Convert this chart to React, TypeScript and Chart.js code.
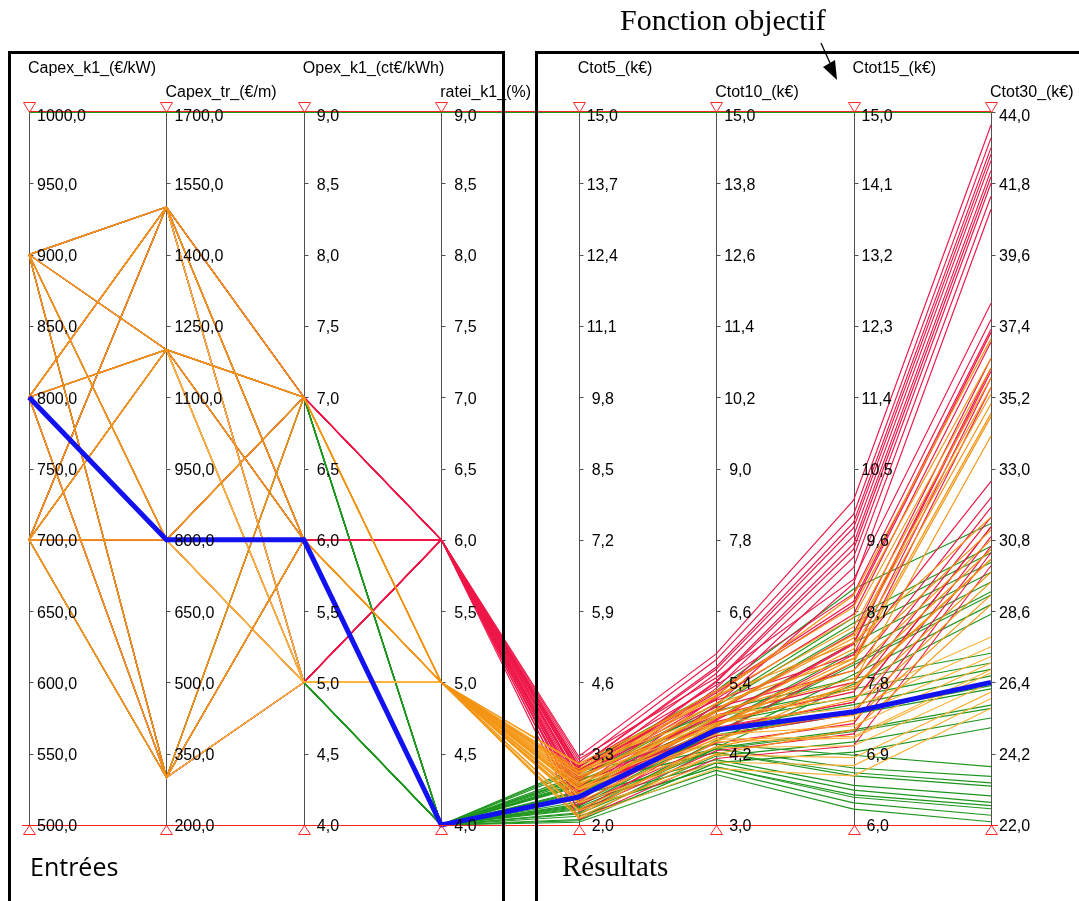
import React, { useEffect, useRef } from 'react';
import { Chart, registerables } from 'chart.js';

Chart.register(...registerables);

// ---- Axes ----
const axisTitles = [
  'Capex_k1_(€/kW)',
  'Capex_tr_(€/m)',
  'Opex_k1_(ct€/kWh)',
  'ratei_k1_(%)',
  'Ctot5_(k€)',
  'Ctot10_(k€)',
  'Ctot15_(k€)',
  'Ctot30_(k€)',
];
const capexK1Ticks = [500, 550, 600, 650, 700, 750, 800, 850, 900, 950, 1000];
const capexTrTicks = [200, 350, 500, 650, 800, 950, 1100, 1250, 1400, 1550, 1700];
const opexTicks = [4.0, 4.5, 5.0, 5.5, 6.0, 6.5, 7.0, 7.5, 8.0, 8.5, 9.0];
const rateiTicks = [4.0, 4.5, 5.0, 5.5, 6.0, 6.5, 7.0, 7.5, 8.0, 8.5, 9.0];
const ctot5Ticks = [2.0, 3.3, 4.6, 5.9, 7.2, 8.5, 9.8, 11.1, 12.4, 13.7, 15.0];
const ctot10Ticks = [3.0, 4.2, 5.4, 6.6, 7.8, 9.0, 10.2, 11.4, 12.6, 13.8, 15.0];
const ctot15Ticks = [6.0, 6.9, 7.8, 8.7, 9.6, 10.5, 11.4, 12.3, 13.2, 14.1, 15.0];
const ctot30Ticks = [22.0, 24.2, 26.4, 28.6, 30.8, 33.0, 35.2, 37.4, 39.6, 41.8, 44.0];
const axisTicks = [capexK1Ticks, capexTrTicks, opexTicks, rateiTicks, ctot5Ticks, ctot10Ticks, ctot15Ticks, ctot30Ticks];

// ---- Lines: [Capex_k1, Capex_tr, Opex_k1, ratei_k1, Ctot5, Ctot10, Ctot15, Ctot30] ----
const red7Rows = [
  [700, 800, 7, 6, 2.58, 5.15, 9.25, 41.4],
  [700, 1200, 7, 6, 2.82, 5.42, 9.55, 42.2],
  [700, 1500, 7, 6, 3.05, 5.66, 9.82, 42.9],
  [800, 300, 7, 6, 2.42, 5.02, 9.05, 41.0],
  [800, 800, 7, 6, 2.68, 5.3, 9.38, 41.8],
  [800, 1200, 7, 6, 2.93, 5.55, 9.65, 42.5],
  [800, 1500, 7, 6, 3.14, 5.78, 9.92, 43.2],
  [900, 800, 7, 6, 2.8, 5.4, 9.48, 42.0],
  [900, 1200, 7, 6, 3.05, 5.62, 9.75, 42.7],
  [900, 1500, 7, 6, 3.25, 5.88, 10.1, 43.6],
];
const red6Rows = [
  [700, 300, 6, 6, 2.25, 4.55, 8.05, 35.5],
  [700, 800, 6, 6, 2.52, 4.78, 8.3, 36.1],
  [700, 1500, 6, 6, 2.98, 5.22, 8.78, 37.2],
  [800, 300, 6, 6, 2.38, 4.66, 8.15, 35.8],
  [800, 800, 6, 6, 2.62, 4.9, 8.42, 36.4],
  [800, 1200, 6, 6, 2.86, 5.12, 8.66, 36.9],
  [800, 1500, 6, 6, 3.08, 5.35, 8.92, 37.6],
  [900, 300, 6, 6, 2.5, 4.76, 8.28, 36.0],
  [900, 1200, 6, 6, 3.0, 5.25, 8.82, 37.3],
  [900, 1500, 6, 6, 3.2, 5.48, 9.1, 38.1],
];
const red5Rows = [
  [700, 300, 5, 6, 2.1, 4.12, 7.0, 30.0],
  [700, 1200, 5, 6, 2.62, 4.62, 7.55, 31.2],
  [700, 1500, 5, 6, 2.85, 4.85, 7.8, 31.8],
  [800, 300, 5, 6, 2.24, 4.25, 7.15, 30.4],
  [800, 800, 5, 6, 2.5, 4.5, 7.4, 30.9],
  [800, 1200, 5, 6, 2.74, 4.74, 7.68, 31.5],
  [800, 1500, 5, 6, 2.95, 4.98, 7.95, 32.1],
  [900, 300, 5, 6, 2.36, 4.38, 7.28, 30.6],
  [900, 800, 5, 6, 2.62, 4.64, 7.55, 31.2],
  [900, 1500, 5, 6, 3.08, 5.1, 8.15, 32.6],
];
const orange7Rows = [
  [700, 300, 7, 5, 2.18, 4.4, 7.8, 34.0],
  [700, 800, 7, 5, 2.46, 4.68, 8.1, 34.7],
  [700, 1200, 7, 5, 2.72, 4.95, 8.4, 35.5],
  [700, 1500, 7, 5, 2.92, 5.16, 8.62, 36.1],
  [800, 800, 7, 5, 2.58, 4.8, 8.22, 35.0],
  [800, 1200, 7, 5, 2.82, 5.05, 8.5, 35.8],
  [800, 1500, 7, 5, 3.02, 5.26, 8.75, 36.4],
  [900, 300, 7, 5, 2.46, 4.66, 8.05, 34.6],
  [900, 800, 7, 5, 2.72, 4.93, 8.36, 35.3],
  [900, 1200, 7, 5, 2.96, 5.18, 8.9, 37.0],
];
const orange6Rows = [
  [700, 300, 6, 5, 2.14, 4.2, 7.2, 28.8],
  [700, 1200, 6, 5, 2.66, 4.7, 7.72, 30.2],
  [700, 1500, 6, 5, 2.86, 4.9, 7.95, 30.8],
  [800, 300, 6, 5, 2.28, 4.32, 7.32, 29.1],
  [800, 800, 6, 5, 2.54, 4.58, 7.58, 29.8],
  [800, 1200, 6, 5, 2.78, 4.82, 7.85, 30.5],
  [800, 1500, 6, 5, 2.98, 5.04, 8.1, 31.1],
  [900, 300, 6, 5, 2.42, 4.46, 7.45, 29.5],
  [900, 800, 6, 5, 2.68, 4.72, 7.75, 30.2],
  [900, 1500, 6, 5, 3.12, 5.18, 8.3, 31.5],
];
const orange5Rows = [
  [700, 300, 5, 5, 2.12, 3.95, 6.62, 25.6],
  [700, 800, 5, 5, 2.4, 4.18, 6.85, 26.1],
  [700, 1200, 5, 5, 2.64, 4.4, 7.1, 26.7],
  [800, 300, 5, 5, 2.26, 4.06, 6.75, 25.9],
  [800, 800, 5, 5, 2.52, 4.3, 7.0, 26.4],
  [800, 1200, 5, 5, 2.76, 4.52, 7.25, 27.0],
  [800, 1500, 5, 5, 2.96, 4.72, 7.48, 27.5],
  [900, 800, 5, 5, 2.66, 4.44, 7.12, 26.8],
  [900, 1200, 5, 5, 2.9, 4.64, 7.38, 27.2],
  [900, 1500, 5, 5, 3.1, 4.85, 7.6, 27.8],
];
const green7Rows = [
  [700, 300, 7, 4, 2.1, 4.3, 7.78, 28.5],
  [700, 800, 7, 4, 2.38, 4.56, 8.05, 29.2],
  [700, 1500, 7, 4, 2.84, 5.0, 8.55, 30.4],
  [800, 300, 7, 4, 2.22, 4.42, 7.9, 28.8],
  [800, 800, 7, 4, 2.48, 4.68, 8.18, 29.5],
  [800, 1200, 7, 4, 2.72, 4.92, 8.45, 30.1],
  [900, 300, 7, 4, 2.34, 4.54, 8.02, 29.1],
  [900, 800, 7, 4, 2.62, 4.8, 8.3, 29.8],
  [900, 1200, 7, 4, 2.86, 5.04, 8.62, 30.6],
  [900, 1500, 7, 4, 3.06, 5.26, 8.98, 31.3],
];
const green6Rows = [
  [700, 300, 6, 4, 2.08, 4.05, 6.92, 25.0],
  [700, 800, 6, 4, 2.36, 4.3, 7.2, 25.7],
  [700, 1200, 6, 4, 2.6, 4.52, 7.42, 26.3],
  [700, 1500, 6, 4, 2.8, 4.72, 7.62, 26.8],
  [800, 300, 6, 4, 2.2, 4.16, 7.05, 25.3],
  [800, 1200, 6, 4, 2.7, 4.62, 7.52, 26.6],
  [800, 1500, 6, 4, 2.9, 4.82, 7.72, 27.0],
  [900, 300, 6, 4, 2.32, 4.28, 7.18, 25.6],
  [900, 800, 6, 4, 2.58, 4.5, 7.4, 26.2],
  [900, 1500, 6, 4, 3.02, 4.92, 7.85, 27.3],
];
const green5Rows = [
  [700, 300, 5, 4, 2.05, 3.85, 6.2, 22.1],
  [700, 800, 5, 4, 2.3, 3.98, 6.35, 22.5],
  [700, 1200, 5, 4, 2.54, 4.1, 6.5, 22.9],
  [700, 1500, 5, 4, 2.74, 4.22, 6.62, 23.2],
  [800, 300, 5, 4, 2.16, 3.92, 6.28, 22.3],
  [800, 800, 5, 4, 2.42, 4.05, 6.44, 22.7],
  [800, 1500, 5, 4, 2.84, 4.28, 6.72, 23.5],
  [900, 300, 5, 4, 2.28, 3.98, 6.38, 22.6],
  [900, 1200, 5, 4, 2.76, 4.22, 6.66, 23.3],
  [900, 1500, 5, 4, 2.98, 4.36, 6.88, 23.8],
];
const optimumRow = [800, 800, 6, 4, 2.51, 4.6, 7.43, 26.4];

const RED = 'rgb(238, 22, 72)';
const ORANGE = 'rgb(243, 148, 18)';
const LIGHT_ORANGE = 'rgb(255, 178, 55)';
const GREEN = 'rgb(30, 150, 30)';
const BLUE = '#1212f0';

const axisMin = (i: number) => axisTicks[i][0];
const axisMax = (i: number) => axisTicks[i][axisTicks[i].length - 1];
const norm = (v: number, i: number) => (v - axisMin(i)) / (axisMax(i) - axisMin(i));
const fmt = (v: number) => v.toFixed(1).replace('.', ',');

const rowsToDatasets = (rows: number[][], color: string, order: number, width = 1.15) =>
  rows.map((row) => ({
    data: row.map((v, i) => ({ x: i, y: norm(v, i) })),
    borderColor: color,
    backgroundColor: color,
    borderWidth: width,
    pointRadius: 0,
    tension: 0,
    fill: false,
    order,
    clip: false as any,
  }));

const parallelPlugin = {
  id: 'parallelAxes',
  beforeDatasetsDraw(chart: any) {
    const { ctx, scales } = chart;
    const xs = scales.x;
    const ys = scales.y;
    ctx.save();
    ctx.strokeStyle = '#505050';
    ctx.lineWidth = 1;
    axisTicks.forEach((ticks, i) => {
      const px = Math.round(xs.getPixelForValue(i)) + 0.5;
      ctx.beginPath();
      ctx.moveTo(px, ys.getPixelForValue(1));
      ctx.lineTo(px, ys.getPixelForValue(0));
      ctx.stroke();
      ticks.forEach((t) => {
        const py = Math.round(ys.getPixelForValue(norm(t, i))) + 0.5;
        ctx.beginPath();
        ctx.moveTo(px, py);
        ctx.lineTo(px + 4, py);
        ctx.stroke();
      });
    });
    ctx.restore();
  },
  afterDatasetsDraw(chart: any) {
    const { ctx, scales } = chart;
    const xs = scales.x;
    const ys = scales.y;
    const x0 = xs.getPixelForValue(0);
    const x7 = xs.getPixelForValue(7);
    const yTop = Math.round(ys.getPixelForValue(1));
    const yBot = Math.round(ys.getPixelForValue(0));
    ctx.save();
    // top and bottom reference lines
    ctx.lineWidth = 1;
    ctx.strokeStyle = '#ff2020';
    ctx.beginPath();
    ctx.moveTo(x0, yTop - 0.5);
    ctx.lineTo(x7, yTop - 0.5);
    ctx.stroke();
    ctx.strokeStyle = '#1a9a1a';
    ctx.beginPath();
    ctx.moveTo(x0, yTop + 0.5);
    ctx.lineTo(x7, yTop + 0.5);
    ctx.stroke();
    ctx.strokeStyle = '#ff2020';
    ctx.beginPath();
    ctx.moveTo(x0 - 7, yBot + 0.5);
    ctx.lineTo(x7 + 7, yBot + 0.5);
    ctx.stroke();

    // triangles
    ctx.strokeStyle = '#ff2a2a';
    axisTicks.forEach((_, i) => {
      const px = Math.round(xs.getPixelForValue(i)) + 0.5;
      ctx.beginPath();
      ctx.moveTo(px - 6, yTop - 9.5);
      ctx.lineTo(px + 6, yTop - 9.5);
      ctx.lineTo(px, yTop + 0.5);
      ctx.closePath();
      ctx.stroke();
      ctx.beginPath();
      ctx.moveTo(px - 6, yBot + 9.5);
      ctx.lineTo(px + 6, yBot + 9.5);
      ctx.lineTo(px, yBot + 0.5);
      ctx.closePath();
      ctx.stroke();
    });

    // tick labels
    ctx.fillStyle = '#000';
    ctx.font = '16px "Liberation Sans", Arial, sans-serif';
    ctx.textAlign = 'left';
    ctx.textBaseline = 'middle';
    axisTicks.forEach((ticks, i) => {
      const px = xs.getPixelForValue(i);
      ticks.forEach((t, k) => {
        const py = ys.getPixelForValue(norm(t, i));
        const dx = t < 10 ? 13 : 8;
        const dy = k === ticks.length - 1 ? 5 : 2;
        ctx.fillText(fmt(t), px + dx, py + dy);
      });
    });

    // axis titles
    ctx.textBaseline = 'alphabetic';
    axisTitles.forEach((title, i) => {
      const px = xs.getPixelForValue(i);
      ctx.fillText(title, px - 1, i % 2 === 0 ? 73 : 97);
    });

    // frames
    ctx.strokeStyle = '#000';
    ctx.lineWidth = 3;
    ctx.beginPath();
    ctx.moveTo(9.5, 910);
    ctx.lineTo(9.5, 52.5);
    ctx.lineTo(503.5, 52.5);
    ctx.lineTo(503.5, 910);
    ctx.stroke();
    ctx.beginPath();
    ctx.moveTo(536.5, 910);
    ctx.lineTo(536.5, 52.5);
    ctx.lineTo(1090, 52.5);
    ctx.stroke();

    // annotations
    ctx.fillStyle = '#000';
    ctx.font = '30px "Liberation Serif", "Times New Roman", serif';
    ctx.fillText('Fonction objectif', 620, 30);
    ctx.font = '29px "Liberation Serif", "Times New Roman", serif';
    ctx.fillText('Résultats', 562, 876);
    ctx.font = '25px "Open Sans", "Noto Sans", sans-serif';
    ctx.fillText('Entrées', 30, 876);

    // arrow
    ctx.lineWidth = 1.3;
    ctx.beginPath();
    ctx.moveTo(821, 43);
    ctx.lineTo(830, 63);
    ctx.stroke();
    ctx.beginPath();
    ctx.moveTo(837, 80);
    ctx.lineTo(823, 67);
    ctx.lineTo(835, 60);
    ctx.closePath();
    ctx.fill();
    ctx.restore();
  },
};

export default function App() {
  const canvasRef = useRef<HTMLCanvasElement | null>(null);

  useEffect(() => {
    if (!canvasRef.current) return;
    const datasets = [
      ...rowsToDatasets([optimumRow], BLUE, 0, 5),
      ...rowsToDatasets(orange7Rows, ORANGE, 1),
      ...rowsToDatasets(orange6Rows, ORANGE, 2),
      ...rowsToDatasets(orange5Rows, LIGHT_ORANGE, 3),
      ...rowsToDatasets(red7Rows, RED, 4),
      ...rowsToDatasets(red6Rows, RED, 5),
      ...rowsToDatasets(red5Rows, RED, 6),
      ...rowsToDatasets(green6Rows, GREEN, 7),
      ...rowsToDatasets(green7Rows, GREEN, 8),
      ...rowsToDatasets(green5Rows, GREEN, 9),
    ];
    const chart = new Chart(canvasRef.current, {
      type: 'line',
      data: { datasets: datasets as any },
      options: {
        responsive: false,
        animation: false,
        devicePixelRatio: 1,
        layout: { padding: { left: 29, right: 88, top: 112, bottom: 76 } },
        scales: {
          x: { type: 'linear', min: 0, max: 7, display: false },
          y: { type: 'linear', min: 0, max: 1, display: false },
        },
        plugins: {
          legend: { display: false },
          tooltip: { enabled: false },
        },
        events: [],
      },
      plugins: [parallelPlugin],
    });
    return () => chart.destroy();
  }, []);

  return (
    <div style={{ position: 'absolute', left: 0, top: 0, width: 1079, height: 901, background: '#fff' }}>
      <canvas ref={canvasRef} width={1079} height={901} />
    </div>
  );
}
